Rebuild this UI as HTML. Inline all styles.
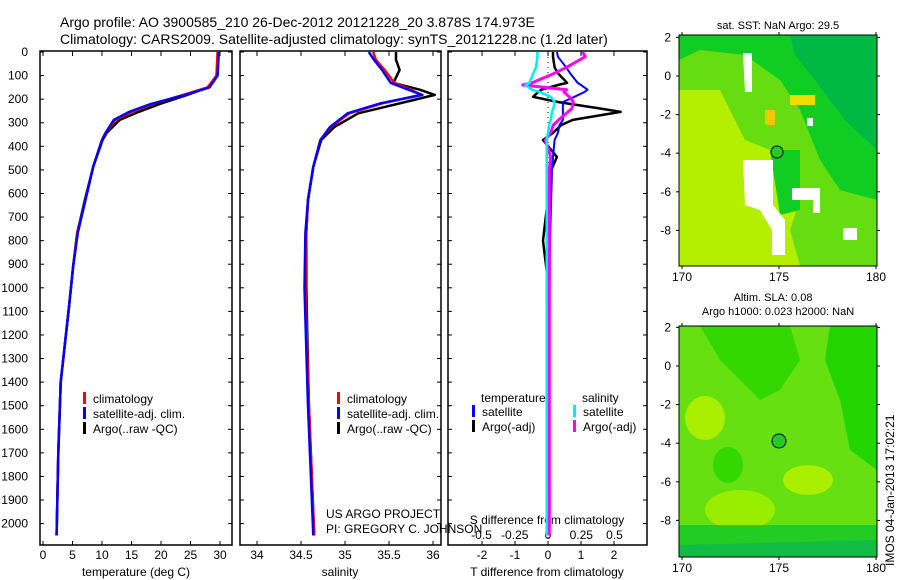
<!DOCTYPE html>
<html><head><meta charset="utf-8"><style>
body{margin:0;background:#fff;}
svg{display:block;font-family:"Liberation Sans",sans-serif;}
</style></head><body>
<svg id="fig" width="900" height="580" viewBox="0 0 900 580">
<text x="60" y="27" font-size="14">Argo profile: AO 3900585_210 26-Dec-2012 20121228_20 3.878S 174.973E</text>
<text x="60" y="44" font-size="14">Climatology: CARS2009. Satellite-adjusted climatology: synTS_20121228.nc (1.2d later)</text>
<g id="p1"></g>
<g id="p2"></g>
<g id="p3"></g>
<g id="m1"></g>
<g id="m2"></g>
</svg>
<script>
// ---- data ----
const depthT = [0,100,150,183,220,254,288,343,373,487,627,767,911,1081,1400,1700,2050];
const tempClim = [29.6,29.4,27.9,23.6,18.6,15.0,12.3,10.6,10.0,8.5,7.2,5.8,5.1,4.4,3.0,2.6,2.3];
const tempSat  = [29.8,29.6,28.2,23.9,18.3,14.6,12.0,10.6,10.0,8.5,7.2,5.9,5.1,4.4,3.0,2.6,2.3];
const tempArgo = [29.7,29.4,28.0,24.3,19.8,16.2,13.0,10.8,10.1,8.5,7.1,5.8,5.1,4.4,3.0,2.6,2.3];
const depthS = [0,33,76,131,160,182,218,260,318,373,487,627,767,1000,1500,2050];
const salClim = [35.32,35.35,35.45,35.56,35.75,35.86,35.42,35.05,34.84,34.72,34.64,34.58,34.56,34.55,34.59,34.65];
const salSat  = [35.27,35.33,35.42,35.52,35.72,35.88,35.40,35.03,34.83,34.72,34.64,34.58,34.55,34.54,34.58,34.64];
const salArgo = [35.58,35.58,35.62,35.55,35.85,36.02,35.62,35.15,34.88,34.73,34.64,34.58,34.56,34.56,34.59,34.65];
const depthD = [0,20,65,90,131,140,160,170,190,212,240,254,288,310,343,373,445,500,800,1000,2050];
const dTArgo = [0.15,0.15,0.2,0.3,0.58,0.3,-0.2,-0.3,-0.45,0.3,1.6,2.2,0.75,0.4,0.15,-0.15,0.27,0.1,-0.15,0.02,0];
const dTSat  = [0.27,0.3,0.55,0.67,0.9,1.0,1.2,1.1,0.8,0.45,0.45,0.45,0.45,0.35,0.3,0.2,0.15,0.12,0.06,0.05,0.02];
const dSSat  = [-0.08,-0.08,-0.09,-0.11,-0.14,-0.17,-0.12,-0.06,0.02,0.05,0.04,0.03,0.02,0.01,0.0,-0.01,-0.01,-0.01,-0.01,-0.01,-0.01];
const dSArgo = [0.26,0.28,0.14,0.05,-0.12,-0.19,0.14,0.12,0.16,0.19,0.18,0.15,0.08,0.04,0.02,-0.02,0.02,0.01,0.01,0.01,0.01];
const depthTicks = [0,100,200,300,400,500,600,700,800,900,1000,1100,1200,1300,1400,1500,1600,1700,1800,1900,2000];
const tempTicks = [0,5,10,15,20,25,30];
const salTicks = [34,34.5,35,35.5,36];
const tdTicks = [-2,-1,0,1,2];
const sdTicks = [-0.5,-0.25,0,0.25,0.5];
const lonTicks = [170,175,180];
const latTicks = [2,0,-2,-4,-6,-8];

const NS="http://www.w3.org/2000/svg";
function el(parent,tag,attrs,txt){const e=document.createElementNS(NS,tag);for(const k in attrs)e.setAttribute(k,attrs[k]);if(txt!==undefined)e.textContent=txt;parent.appendChild(e);return e;}
const TOP=52, BOT=545;
const yD = d => 52 + d*0.2358;
const xT = t => 43 + t*5.9;
const xS = s => 257 + (s-34)*88;
const xTD = v => 548 + v*33;
const xSD = v => 548 + v*133;

function frame(g,x0,x1,name){
  const r=el(g,'rect',{x:x0,y:TOP-1,width:x1-x0,height:BOT-TOP+1,fill:'none',stroke:'#000','stroke-width':1.5});
  
  
  depthTicks.forEach(d=>{
    el(g,'line',{x1:x0,x2:x0+4,y1:yD(d),y2:yD(d),stroke:'#000'});
    el(g,'line',{x1:x1-4,x2:x1,y1:yD(d),y2:yD(d),stroke:'#000'});
  });
}
function xticks(g,vals,fx,y,labels,ly){
  vals.forEach(v=>{
    el(g,'line',{x1:fx(v),x2:fx(v),y1:TOP-1,y2:TOP+4,stroke:'#000'});
    el(g,'line',{x1:fx(v),x2:fx(v),y1:BOT-4,y2:BOT,stroke:'#000'});
    const t=el(g,'text',{x:fx(v),y:ly,'font-size':12,'text-anchor':'middle'},String(v));
    
    
  });
}
function line(g,xs,ds,fx,color,w,name){
  const pts=xs.map((v,i)=>fx(v).toFixed(1)+','+yD(ds[i]).toFixed(1)).join(' ');
  const p=el(g,'polyline',{points:pts,fill:'none',stroke:color,'stroke-width':w,'stroke-linejoin':'round'});
  
  
}
function legend(g,x,y,items){
  items.forEach((it,i)=>{
    el(g,'rect',{x:x,y:y+i*15-11,width:3,height:12,fill:it[1]});
    const t=el(g,'text',{x:x+10,y:y+i*15,'font-size':12},it[0]);
    
    
  });
}
// Panel 1
const p1=document.getElementById('p1');
frame(p1,40,232,'temperature-axes');
depthTicks.forEach(d=>{const t=el(p1,'text',{x:28,y:yD(d)+4,'font-size':12,'text-anchor':'end'},String(d));});
xticks(p1,tempTicks,xT,0,null,559);
const xl1=el(p1,'text',{x:136,y:576,'font-size':12,'text-anchor':'middle'},'temperature (deg C)');

line(p1,tempArgo,depthT,xT,'#000',2.5,'argo-temperature-line');
line(p1,tempClim,depthT,xT,'#f00',2.5,'clim-temperature-line');
line(p1,tempSat,depthT,xT,'#00f',2.5,'sat-temperature-line');
legend(p1,83,403,[['climatology','#f00'],['satellite-adj. clim.','#00f'],['Argo(..raw -QC)','#000']]);
// Panel 2
const p2=document.getElementById('p2');
frame(p2,240,441,'salinity-axes');
xticks(p2,salTicks,xS,0,null,559);
const xl2=el(p2,'text',{x:340,y:576,'font-size':12,'text-anchor':'middle'},'salinity');

line(p2,salArgo,depthS,xS,'#000',2.5,'argo-salinity-line');
line(p2,salClim,depthS,xS,'#f00',2.5,'clim-salinity-line');
line(p2,salSat,depthS,xS,'#00f',2.5,'sat-salinity-line');
legend(p2,337,403,[['climatology','#f00'],['satellite-adj. clim.','#00f'],['Argo(..raw -QC)','#000']]);
el(p2,'text',{x:326,y:518,'font-size':12},'US ARGO PROJECT');
el(p2,'text',{x:326,y:533,'font-size':12},'PI: GREGORY C. JOHNSON');
// Panel 3
const p3=document.getElementById('p3');
frame(p3,448,647,'difference-axes');
tdTicks.forEach(v=>{el(p3,'line',{x1:xTD(v),x2:xTD(v),y1:TOP-1,y2:TOP+4,stroke:'#000'});el(p3,'line',{x1:xTD(v),x2:xTD(v),y1:BOT-4,y2:BOT,stroke:'#000'});
  const t=el(p3,'text',{x:xTD(v),y:559,'font-size':12,'text-anchor':'middle'},String(v));});
sdTicks.forEach(v=>{const t=el(p3,'text',{x:xSD(v),y:539,'font-size':12,'text-anchor':'middle'},String(v));});
el(p3,'text',{x:547,y:524,'font-size':12,'text-anchor':'middle'},'S difference from climatology');
el(p3,'text',{x:547,y:576,'font-size':12,'text-anchor':'middle'},'T difference from climatology');
el(p3,'line',{x1:548,x2:548,y1:TOP,y2:BOT,stroke:'#000','stroke-dasharray':'1,4'});
line(p3,dTArgo,depthD,xTD,'#000',2.5,'argo-t-diff-line');
line(p3,dTSat,depthD,xTD,'#00f',2,'sat-t-diff-line');
line(p3,dSArgo,depthD,xSD,'#f0f',3,'argo-s-diff-line');
line(p3,dSSat,depthD,xSD,'#0ee',2.5,'sat-s-diff-line');
el(p3,'text',{x:481,y:402,'font-size':12},'temperature');
el(p3,'text',{x:582,y:402,'font-size':12},'salinity');
legend(p3,472,416,[['satellite','#00f'],['Argo(-adj)','#000']]);
legend(p3,573,416,[['satellite','#0ee'],['Argo(-adj)','#f0f']]);

// Maps
function mapAxes(g,x0,x1,y0,y1,lat0y,name){
  const xL=v=>682+(v-170)*19.4;
  const yL=v=>lat0y - v*19.3;
  const r=el(g,'rect',{x:x0,y:y0,width:x1-x0,height:y1-y0,fill:'none',stroke:'#000','stroke-width':1});
  
  lonTicks.forEach(v=>{el(g,'line',{x1:xL(v),x2:xL(v),y1:y0-3,y2:y0,stroke:'#000'});el(g,'line',{x1:xL(v),x2:xL(v),y1:y1,y2:y1+3,stroke:'#000'});
    el(g,'text',{x:xL(v),y:y1+15,'font-size':12,'text-anchor':'middle'},String(v));});
  latTicks.forEach(v=>{el(g,'line',{x1:x0-3,x2:x0,y1:yL(v),y2:yL(v),stroke:'#000'});el(g,'line',{x1:x1,x2:x1+3,y1:yL(v),y2:yL(v),stroke:'#000'});
    el(g,'text',{x:x0-8,y:yL(v)+4,'font-size':12,'text-anchor':'end'},String(v));});
}
const m1=document.getElementById('m1');
el(m1,'text',{x:778,y:29,'font-size':11,'text-anchor':'middle'},'sat. SST: NaN Argo: 29.5');
el(m1,'rect',{x:679,y:35,width:198,height:231,fill:'#b4ee00'});
el(m1,'polygon',{points:'679,35 877,35 877,266 800,266 790,230 800,200 790,170 770,150 745,140 720,90 679,90',fill:'#66dd11'});
el(m1,'polygon',{points:'679,35 877,35 877,200 840,190 820,160 800,110 780,80 745,55 700,50 679,60',fill:'#11cc22'});
el(m1,'polygon',{points:'790,35 877,35 877,150 845,120 815,80 795,55',fill:'#00b844'});
el(m1,'polygon',{points:'770,150 800,150 800,210 780,215',fill:'#11cc22'});
el(m1,'rect',{x:790,y:95,width:25,height:10,fill:'#eedd00'});
el(m1,'rect',{x:765,y:110,width:10,height:15,fill:'#f0c800'});
el(m1,'polygon',{points:'743,160 773,160 773,205 785,220 785,255 772,255 772,230 760,210 745,205',fill:'#fff'});
el(m1,'polygon',{points:'743,53 752,53 752,92 745,92',fill:'#fff'});
el(m1,'polygon',{points:'792,188 820,188 820,213 813,213 813,200 792,200',fill:'#fff'});
el(m1,'rect',{x:843,y:228,width:14,height:12,fill:'#fff'});
el(m1,'rect',{x:807,y:118,width:6,height:8,fill:'#fff'});
el(m1,'circle',{cx:777,cy:152,r:6,fill:'#22cc22',stroke:'#000','stroke-width':1});
mapAxes(m1,679,877,35,266,76,'sst-map-frame');
const m2=document.getElementById('m2');
el(m2,'text',{x:773,y:301,'font-size':11,'text-anchor':'middle'},'Altim. SLA: 0.08');
el(m2,'text',{x:778,y:315,'font-size':11,'text-anchor':'middle'},'Argo h1000: 0.023 h2000: NaN');
el(m2,'rect',{x:679,y:326,width:198,height:231,fill:'#66e010'});
el(m2,'polygon',{points:'700,326 790,326 800,360 780,390 760,400 740,380 720,360',fill:'#33d800'});
el(m2,'polygon',{points:'830,326 877,326 877,470 850,450 840,400 825,360',fill:'#22d400'});
el(m2,'ellipse',{cx:705,cy:418,rx:20,ry:22,fill:'#aaee00'});
el(m2,'ellipse',{cx:740,cy:510,rx:35,ry:20,fill:'#99ee00'});
el(m2,'ellipse',{cx:808,cy:480,rx:25,ry:15,fill:'#aaee00'});
el(m2,'ellipse',{cx:728,cy:465,rx:15,ry:18,fill:'#33d800'});
el(m2,'polygon',{points:'679,525 877,525 877,557 679,557',fill:'#22cc22'});
el(m2,'polygon',{points:'679,545 877,540 877,557 679,557',fill:'#11bb44'});
el(m2,'circle',{cx:779,cy:441,r:7,fill:'#22cc22',stroke:'#000','stroke-width':1});
mapAxes(m2,679,877,326,557,366,'sla-map-frame');
const st=el(m2,'text',{x:0,y:0,'font-size':12,transform:'translate(894,566) rotate(-90)'},'IMOS 04-Jan-2013 17:02:21');

</script>
</body></html>
